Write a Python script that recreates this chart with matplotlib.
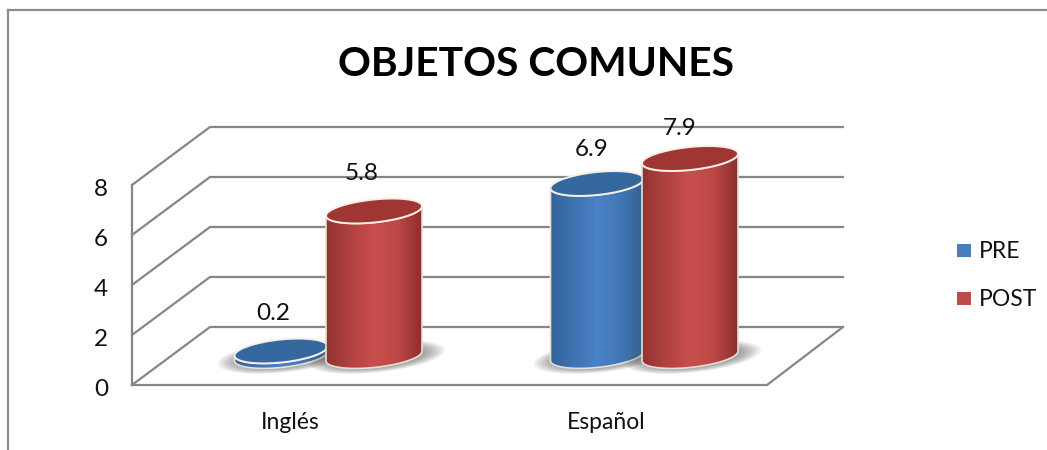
import numpy as np
import matplotlib
matplotlib.use('Agg')
import matplotlib.pyplot as plt
from matplotlib.path import Path
from matplotlib.patches import PathPatch, Rectangle
from matplotlib.colors import LinearSegmentedColormap

categories = ['Inglés', 'Español']
series_names = ['PRE', 'POST']
pre_values = [0.2, 6.9]
post_values = [5.8, 7.9]
y_ticks = [0, 2, 4, 6, 8]

plt.rcParams['font.family'] = ['Lato', 'DejaVu Sans']

GRID = '#868686'
BLUE = ['#33639a', '#3f74b2', '#4a82c8', '#4278b6', '#345f94']
RED = ['#933331', '#b04240', '#c94f4d', '#bd4846', '#8a2f2d']
BLUE_TOP = '#34689f'
RED_TOP = '#a03634'

fig = plt.figure(figsize=(10.47, 4.5), dpi=100)
ax = fig.add_axes([0, 0, 1, 1])


def wall_y(v):
    return 385 - 25 * v


def bar_y(v):
    return 356 - 25 * v


def ellipse(cx, cy, a, b, t):
    # tilted disc, right side sits higher than left
    x = cx + a * np.cos(t)
    y = cy + b * np.sin(t) - 0.1 * a * np.cos(t)
    return x, y


def cylinder(cx, a, value, colors, top_color, z):
    b = 11.5
    base = bar_y(0)
    top = bar_y(value)

    # soft shadow on the floor
    for k in range(10):
        sx, sy = ellipse(cx + 3, base + 1, a + 20 - 2.2 * k, b + 4 - 0.5 * k, np.linspace(0, 2 * np.pi, 80))
        ax.fill(sx, sy, color='#404040', alpha=0.06, lw=0, zorder=z)

    # body outline: down left side, round the bottom, up right side, back over the top
    bx, by = ellipse(cx, base, a, b, np.linspace(np.pi, 0, 60))
    tx, ty = ellipse(cx, top, a, b, np.linspace(0, np.pi, 60))
    verts = np.column_stack([np.r_[bx, tx], np.r_[by, ty]])
    path = Path(np.vstack([verts, verts[0]]), closed=True)

    cmap = LinearSegmentedColormap.from_list('c', colors)
    im = ax.imshow(np.linspace(0, 1, 200).reshape(1, -1), cmap=cmap, aspect='auto',
                   extent=[cx - a, cx + a, base + b + 8, top - b - 8], zorder=z + 1)
    edge = PathPatch(path, fc='none', ec='#e6e0d8', lw=1.2, zorder=z + 2)
    ax.add_patch(edge)
    im.set_clip_path(edge)

    ex, ey = ellipse(cx, top, a, b, np.linspace(0, 2 * np.pi, 120))
    ax.fill(ex, ey, fc=top_color, ec='#f6efe6', lw=1.4, zorder=z + 3)


# frame of the chart
ax.plot([8, 8], [450, 10], color='#8c8c8c', lw=1.6, zorder=1)
ax.plot([8, 1047], [10, 10], color='#8c8c8c', lw=1.6, zorder=1)

# walls and floor
for v in y_ticks:
    ax.plot([132, 210, 843], [wall_y(v), wall_y(v) - 58, wall_y(v) - 58], color=GRID, lw=1.6, zorder=2)
    ax.text(101, wall_y(v) + 5, str(v), ha='center', va='center', fontsize=17.5, color='#111111')
ax.plot([132, 132], [wall_y(0), wall_y(y_ticks[-1])], color=GRID, lw=1.6, zorder=2)
ax.plot([132, 767, 843], [wall_y(0), wall_y(0), wall_y(0) - 58], color=GRID, lw=1.6, zorder=2)

# bars
group_x = [327.5, 643.5]
label_dx = [[-8, -12], [-5, -10]]
label_dy = [[-37, -37], [-34, -30]]
for i, cat in enumerate(categories):
    cylinder(group_x[i] - 46.5, 46.5, pre_values[i], BLUE, BLUE_TOP, 10 + 10 * i)
    cylinder(group_x[i] + 46.5, 48, post_values[i], RED, RED_TOP, 15 + 10 * i)
    ax.text(group_x[i] - 46.5 + label_dx[i][0], bar_y(pre_values[i]) + label_dy[i][0], str(pre_values[i]),
            ha='center', va='center', fontsize=17.5, color='#111111', zorder=40)
    ax.text(group_x[i] + 46.5 + label_dx[i][1], bar_y(post_values[i]) + label_dy[i][1], str(post_values[i]),
            ha='center', va='center', fontsize=17.5, color='#111111', zorder=40)
    ax.text(group_x[i] - 37, 422.5, cat, ha='center', va='center', fontsize=16.5, color='#111111')

ax.text(535.5, 64, 'OBJETOS COMUNES', ha='center', va='center', fontsize=29.3, fontweight='bold', color='black')

# legend
for name, c, y in zip(series_names, ['#4a7ebb', '#be4b48'], [250.5, 298.5]):
    ax.add_patch(Rectangle((957, y - 6.5), 14, 13, fc=c, ec='none', zorder=3))
    ax.text(979, y + 1, name, ha='left', va='center', fontsize=16.5, color='#111111')

ax.set_xlim(0, 1047)
ax.set_ylim(450, 0)
ax.axis('off')
fig.savefig('out.png', dpi=100)
